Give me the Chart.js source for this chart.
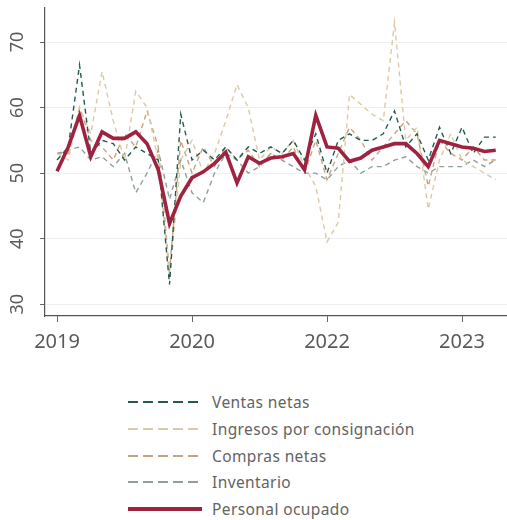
<!DOCTYPE html>
<html lang="es">
<head>
<meta charset="utf-8">
<title>Indicadores</title>
<script src="https://cdn.jsdelivr.net/npm/chart.js@4/dist/chart.umd.min.js"></script>
<style>
    body { margin: 0; background: #fff; font-family: "Noto Sans", sans-serif; }
    #contenedor { position: relative; width: 507px; height: 520px; }
    #leyenda { position: absolute; left: 128px; top: 389px; }
    .fila { display: flex; align-items: center; height: 26.7px; }
    .fila svg { width: 74px; height: 8px; margin-right: 10px; }
    .fila span { font-size: 15.5px; letter-spacing: 0.4px; color: #636363; }
</style>
</head>
<body>
<div id="contenedor">
    <canvas id="canvasGrafico" width="507" height="362"></canvas>
    <div id="leyenda"></div>
</div>
<script>
"use strict";

// ============================================================
// DATOS — un punto por mes, a partir de enero (índice 0)
// ============================================================
const meses = [0,1,2,3,4,5,6,7,8,9,10,11,12,13,14,15,16,17,18,19,20,21,22,23,24,25,26,27,28,29,30,31,32,33,34,35,36,37,38,39];

// posiciones y textos de las marcas del eje X (tal como aparecen)
const posEjeX = [0, 12, 24, 36];
const etiquetasEjeX = ["2019", "2020", "2022", "2023"];
const marcasEjeY = [30, 40, 50, 60, 70];

const ventasNetas = [52, 54, 66.5, 53, 55, 54.5, 52, 54, 53, 52, 33, 59, 52, 53.5, 52, 54, 52, 54, 53, 54,
                     53, 55, 52, 56, 50, 55, 56, 55, 55, 56, 59.5, 54, 56, 52, 57, 53, 57, 53, 55.5, 55.5];
const ingresosConsignacion = [53, 52, 60, 56, 65.5, 58, 52, 62.5, 60, 52, 34, 52, 55, 50, 53, 58, 63.5, 60, 52, 54,
                              53, 55, 51, 48, 39.5, 42.5, 62, 60.5, 59, 58, 73, 55, 57, 44.5, 52, 56, 52, 51, 50, 49];
const comprasNetas = [53, 53, 60, 55, 54, 52, 56, 54, 59.5, 54, 35, 55, 50, 54, 51, 54, 52, 53.5, 51, 53,
                      52, 54, 50, 55, 49, 53, 57, 55, 52, 54, 56, 58, 56, 48, 55, 53, 52, 54, 52, 52];
const inventario = [53, 53.5, 54, 52, 52.5, 51, 53, 47, 50, 53.5, 46, 52, 47, 45.5, 50, 53, 52, 50, 51, 53,
                    52, 51, 50, 50, 49, 51, 52, 50, 51, 51, 52, 52.5, 51, 50, 51, 51, 51, 52, 51, 52];
const personalOcupado = [50.3, 54, 58.8, 52.5, 56.3, 55.3, 55.3, 56.3, 54.5, 50.5, 42.3, 46.5, 49.3, 50.2, 51.5, 53.2, 48.5, 52.5, 51.5, 52.3,
                         52.5, 53, 50.5, 58.8, 54, 53.8, 51.8, 52.3, 53.5, 54, 54.5, 54.5, 53, 51, 55, 54.5, 54, 53.8, 53.3, 53.5];

// nombre, datos, color, línea discontinua o no
const series = [
    { nombre: "Ventas netas", datos: ventasNetas, color: "#235B4E", discontinua: true },
    { nombre: "Ingresos por consignación", datos: ingresosConsignacion, color: "#DDC9A3", discontinua: true },
    { nombre: "Compras netas", datos: comprasNetas, color: "#C9A37E", discontinua: true },
    { nombre: "Inventario", datos: inventario, color: "#8FA096", discontinua: true },
    { nombre: "Personal ocupado", datos: personalOcupado, color: "#9F2241", discontinua: false }
];

let grafico;

crearGrafico();
crearLeyenda();

// ============================================================
// crearGrafico() — líneas con Chart.js
// ============================================================
function crearGrafico() {
    let datasets = series.map(function (s) {
        return {
            label: s.nombre,
            data: meses.map((m, i) => ({ x: m, y: s.datos[i] })),
            borderColor: s.color,
            borderWidth: s.discontinua ? 1.4 : 3.6,
            borderDash: s.discontinua ? [5, 4] : [],
            pointRadius: 0,
            tension: 0,
            order: s.discontinua ? 1 : 0   // la línea roja va encima
        };
    });

    grafico = new Chart(document.getElementById("canvasGrafico"), {
        type: "line",
        data: { datasets: datasets },
        options: {
            responsive: false,
            animation: false,
            devicePixelRatio: 1,
            layout: { padding: { top: 8, right: 0, left: 0, bottom: 0 } },
            plugins: {
                legend: { display: false },
                tooltip: { enabled: false }
            },
            scales: {
                x: {
                    type: "linear",
                    min: -1.07,
                    max: 40,
                    afterBuildTicks: function (scale) {
                        scale.ticks = posEjeX.map(v => ({ value: v }));
                    },
                    afterFit: function (scale) {
                        scale.height = 46;   // eje X en y = 316
                        scale.paddingLeft = 0;
                        scale.paddingRight = 0;
                    },
                    ticks: {
                        autoSkip: false,
                        maxRotation: 0,
                        padding: 8,
                        color: "#5a5a5a",
                        font: { family: "Noto Sans", size: 20 },
                        callback: function (v) {
                            let k = posEjeX.indexOf(v);
                            return k >= 0 ? etiquetasEjeX[k] : "";
                        }
                    },
                    grid: { drawOnChartArea: false, drawTicks: true, tickLength: 6, tickColor: "#666" },
                    border: { color: "#555", width: 1.2 }
                },
                y: {
                    min: 28.2,
                    max: 75.2,
                    afterBuildTicks: function (scale) {
                        scale.ticks = marcasEjeY.map(v => ({ value: v }));
                    },
                    afterFit: function (scale) {
                        scale.width = 45;
                        // sin margen extra por las etiquetas giradas
                        scale.paddingTop = 0;
                        scale.paddingBottom = 0;
                    },
                    ticks: {
                        minRotation: 90,
                        maxRotation: 90,
                        crossAlign: "center",
                        padding: 12,
                        color: "#5a5a5a",
                        font: { family: "Noto Sans", size: 18 }
                    },
                    grid: { color: "#efefef", lineWidth: 1, drawTicks: true, tickLength: 5, tickColor: "#666" },
                    border: { color: "#555", width: 1.2 }
                }
            }
        }
    });
}

// ============================================================
// crearLeyenda() — una serie por fila, debajo del gráfico
// ============================================================
function crearLeyenda() {
    let div = document.getElementById("leyenda");
    series.forEach(function (s) {
        let fila = document.createElement("div");
        fila.className = "fila";
        let trazo = s.discontinua
            ? '<line x1="0" y1="4" x2="74" y2="4" stroke="' + s.color + '" stroke-width="2" stroke-dasharray="10,5"/>'
            : '<line x1="0" y1="4" x2="74" y2="4" stroke="' + s.color + '" stroke-width="4"/>';
        fila.innerHTML = '<svg viewBox="0 0 74 8">' + trazo + '</svg>';
        let texto = document.createElement("span");
        texto.textContent = s.nombre;
        fila.appendChild(texto);
        div.appendChild(fila);
    });
}
</script>
</body>
</html>
